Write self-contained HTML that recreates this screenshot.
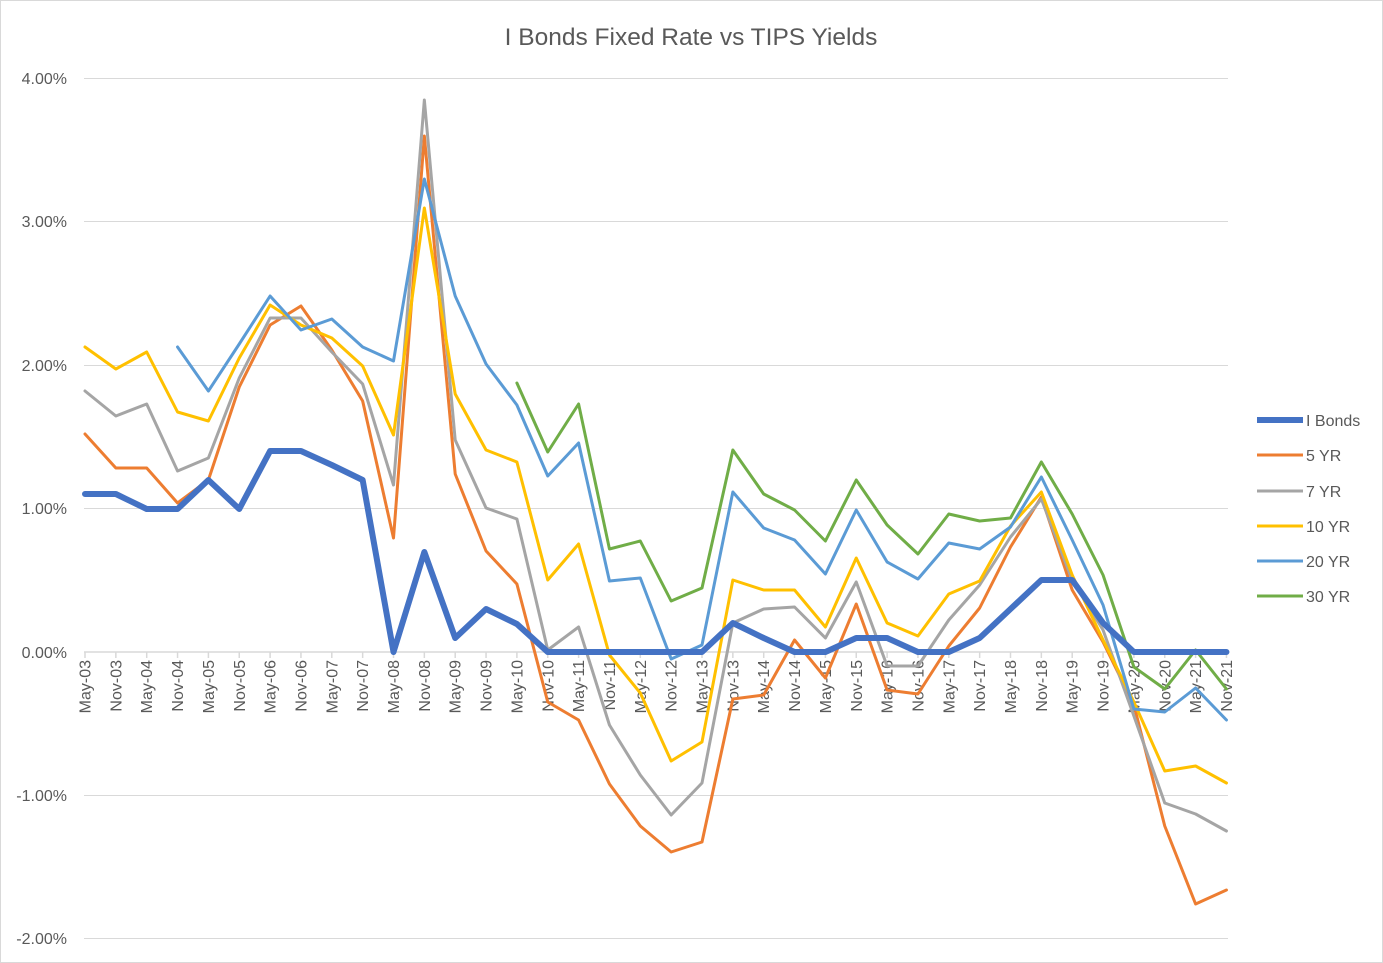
<!DOCTYPE html>
<html><head><meta charset="utf-8"><style>
html,body{margin:0;padding:0;background:#fff}
svg{display:block;font-family:"Liberation Sans",sans-serif}
</style></head><body>
<svg width="1383" height="963" xmlns="http://www.w3.org/2000/svg">
<rect x="0.5" y="0.5" width="1382" height="962" fill="#fff" stroke="#d9d9d9"/>
<text x="691" y="45" text-anchor="middle" font-size="24.5" fill="#595959">I Bonds Fixed Rate vs TIPS Yields</text>
<g stroke="#d9d9d9" stroke-width="1">
<line x1="84" x2="1228" y1="78.5" y2="78.5"/>
<line x1="84" x2="1228" y1="221.5" y2="221.5"/>
<line x1="84" x2="1228" y1="365.5" y2="365.5"/>
<line x1="84" x2="1228" y1="508.5" y2="508.5"/>
<line x1="84" x2="1228" y1="795.5" y2="795.5"/>
<line x1="84" x2="1228" y1="938.5" y2="938.5"/>
</g>
<line x1="84" x2="1228" y1="652" y2="652" stroke="#d9d9d9" stroke-width="1.5"/>
<g font-size="16" fill="#595959" text-anchor="end">
<text x="67" y="84">4.00%</text>
<text x="67" y="227">3.00%</text>
<text x="67" y="371">2.00%</text>
<text x="67" y="514">1.00%</text>
<text x="67" y="658">0.00%</text>
<text x="67" y="801">-1.00%</text>
<text x="67" y="944">-2.00%</text>
</g>
<g id="ticks" stroke="#d9d9d9" stroke-width="1.5"></g>
<g id="labels" font-size="16" fill="#595959"></g>
<g fill="none" stroke-linejoin="round" stroke-linecap="round">
<polyline id="s5" stroke="#ed7d31" stroke-width="3"/>
<polyline id="s7" stroke="#a5a5a5" stroke-width="3"/>
<polyline id="s10" stroke="#ffc000" stroke-width="3"/>
<polyline id="s20" stroke="#5b9bd5" stroke-width="3"/>
<polyline id="s30" stroke="#70ad47" stroke-width="3"/>
<polyline id="sI" stroke="#4472c4" stroke-width="6"/>
</g>
<g font-size="16" fill="#595959">
<line x1="1257" x2="1303" y1="420" y2="420" stroke="#4472c4" stroke-width="6"/><text x="1306" y="426">I Bonds</text>
<line x1="1257" x2="1303" y1="455" y2="455" stroke="#ed7d31" stroke-width="3"/><text x="1306" y="461">5 YR</text>
<line x1="1257" x2="1303" y1="491" y2="491" stroke="#a5a5a5" stroke-width="3"/><text x="1306" y="497">7 YR</text>
<line x1="1257" x2="1303" y1="526" y2="526" stroke="#ffc000" stroke-width="3"/><text x="1306" y="532">10 YR</text>
<line x1="1257" x2="1303" y1="561" y2="561" stroke="#5b9bd5" stroke-width="3"/><text x="1306" y="567">20 YR</text>
<line x1="1257" x2="1303" y1="596" y2="596" stroke="#70ad47" stroke-width="3"/><text x="1306" y="602">30 YR</text>
</g>
<script>
var X=function(i){return 85+30.85*i};
var cats=[];for(var y=3;y<=21;y++){var s=(y<10?'0':'')+y;cats.push('May-'+s,'Nov-'+s);}
var ns="http://www.w3.org/2000/svg",t=document.getElementById('ticks'),l=document.getElementById('labels');
cats.forEach(function(c,i){var x=X(i);
var ln=document.createElementNS(ns,'line');ln.setAttribute('x1',x);ln.setAttribute('x2',x);ln.setAttribute('y1',652);ln.setAttribute('y2',658);t.appendChild(ln);
var tx=document.createElementNS(ns,'text');tx.setAttribute('transform','translate('+(x+5.5)+',660) rotate(-90)');tx.setAttribute('text-anchor','end');tx.textContent=c;l.appendChild(tx);});
function set(id,start,ys){document.getElementById(id).setAttribute('points',ys.map(function(y,k){return X(start+k)+','+y}).join(' '));}
set('sI',0,[494,494,509,509,480,509,451,451,465,480,652,552,638,609,624,652,652,652,652,652,652,623,638,652,652,638,638,652,652,638,609,580,580,623,652,652,652,652]);
set('s5',0,[434,468,468,503,480,387,325,306,350,401,538,136,474,551,584,702,720,784,826,852,842,699,695,640,678,604,690,694,646,608,547,497,590,642,705,826,904,890]);
set('s7',0,[391,416,404,471,458,378,318,318,352,384,485,100,440,508,519,650,627,725,775,815,783,623,609,607,638,582,666,666,620,585,537,499,580,630,716,803,814,831]);
set('s10',0,[347,369,352,412,421,358,305,325,338,366,435,208,394,450,462,580,544,655,693,761,742,580,590,590,627,558,623,636,594,581,526,492,575,640,702,771,766,783]);
set('s20',3,[347,391,344,296,330,319,347,361,179,296,364,405,476,443,581,578,659,645,492,528,540,574,510,562,579,543,549,527,477,540,605,709,712,688,720]);
set('s30',14,[383,452,404,549,541,601,588,450,494,510,541,480,525,554,514,521,518,462,514,575,667,689,650,689]);
</script>
</svg>
</body></html>
